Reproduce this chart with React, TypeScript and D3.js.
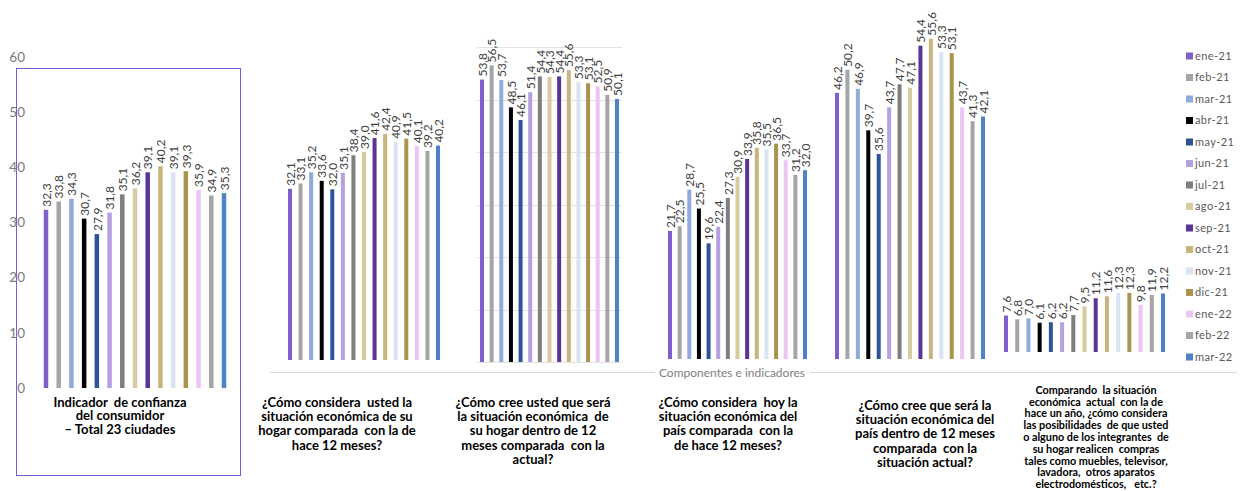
import React from "react";
import * as d3 from "d3";

const months = ["ene-21","feb-21","mar-21","abr-21","may-21","jun-21","jul-21","ago-21","sep-21","oct-21","nov-21","dic-21","ene-22","feb-22","mar-22"];
const monthColors = ["#7F5FC8","#A5A5A5","#8FAADC","#000000","#2F5496","#B4A0E2","#7F7F7F","#D8CBA0","#5A3596","#C8B57D","#DAE3F3","#A8934F","#EDC5F5","#A5A5A5","#4F81C8"];

const indicadorTotal = [32.3,33.8,34.3,30.7,27.9,31.8,35.1,36.2,39.1,40.2,39.1,39.3,35.9,34.9,35.3];
const hogarActual = [32.1,33.1,35.2,33.6,32.0,35.1,38.4,39.0,41.6,42.4,40.9,41.5,40.1,39.2,40.2];
const hogarFutura = [53.8,56.5,53.7,48.5,46.1,51.4,54.4,54.3,54.4,55.6,53.3,53.1,52.5,50.9,50.1];
const paisActual = [21.7,22.5,28.7,25.5,19.6,22.4,27.3,30.9,33.9,35.8,35.5,36.5,33.7,31.2,32.0];
const paisFutura = [46.2,50.2,46.9,39.7,35.6,43.7,47.7,47.1,54.4,55.6,53.3,53.1,43.7,41.3,42.1];
const comprasBienes = [7.6,6.8,7.0,6.1,6.2,6.2,7.7,9.5,11.2,11.6,12.3,12.3,9.8,11.9,12.2];

const yTicks = [0,10,20,30,40,50,60];
const axisTitle = "Componentes e indicadores";

const labelIndicador = ["Indicador  de confianza","del consumidor","– Total 23 ciudades"];
const labelHogarActual = ["¿Cómo considera  usted la","situación económica de su","hogar comparada  con la de","hace 12 meses?"];
const labelHogarFutura = ["¿Cómo cree usted que será","la situación económica  de","su hogar dentro de 12","meses comparada  con la","actual?"];
const labelPaisActual = ["¿Cómo considera  hoy la","situación económica del","país comparada  con la","de hace 12 meses?"];
const labelPaisFutura = ["¿Cómo cree que será la","situación económica del","país dentro de 12 meses","comparada  con la","situación actual?"];
const labelCompras = ["Comparando  la situación","económica  actual  con la de","hace un año, ¿cómo considera","las posibilidades  de que usted","o alguno de los integrantes  de","su hogar realicen  compras","tales como muebles, televisor,","lavadora,  otros aparatos","electrodomésticos,   etc.?"];

// layout (positions only)
const panels = [
  { values: indicadorTotal, label: labelIndicador, x0: 46, x1: 224, base: 388, top60: 57, lx: 120, ly: 402, lh: 13.8, fs: 13, bw: 4.5 },
  { values: hogarActual, label: labelHogarActual, x0: 290, x1: 438, base: 360, top60: 40, lx: 337, ly: 402, lh: 14.4, fs: 13, bw: 4 },
  { values: hogarFutura, label: labelHogarFutura, x0: 482, x1: 617, base: 362, top60: 47, lx: 533, ly: 402, lh: 14.4, fs: 13, bw: 4, grid: true },
  { values: paisActual, label: labelPaisActual, x0: 670, x1: 805, base: 359, top60: 5, lx: 728, ly: 402, lh: 14.4, fs: 13, bw: 4 },
  { values: paisFutura, label: labelPaisFutura, x0: 837, x1: 983, base: 359, top60: 13.4, lx: 925, ly: 405, lh: 14.4, fs: 13, bw: 4 },
  { values: comprasBienes, label: labelCompras, x0: 1006, x1: 1163, base: 352, top60: 64, lx: 1096, ly: 390, lh: 11.8, fs: 10.8, bw: 4 },
];

const fmt = (v: number) => d3.format(".1f")(v).replace(".", ",");
const FONT = "Lato, 'Open Sans', sans-serif";

export default function App() {
  const axisScale = d3.scaleLinear().domain([0, 60]).range([panels[0].base, panels[0].top60]);
  const legendY = d3.scalePoint<string>().domain(months).range([56, 357]);
  return (
    <svg width={1241} height={491} style={{ position: "absolute", left: 0, top: 0, background: "#fff" }} fontFamily={FONT}>
      <rect x={0} y={0} width={1241} height={491} fill="#fff" />
      {yTicks.map((t) => (
        <text key={t} x={25} y={axisScale(t)} dy="0.35em" textAnchor="end" fontSize={13.5} fill="#7a7a7a">{t}</text>
      ))}
      <rect x={16.5} y={68.5} width={224} height={407} fill="none" stroke="#7B5FD0" strokeWidth={1} />
      <line x1={270} x2={655} y1={372.5} y2={372.5} stroke="#d9d9d9" strokeWidth={1} />
      <line x1={810} x2={1237} y1={372.5} y2={372.5} stroke="#d9d9d9" strokeWidth={1} />
      <text x={732} y={373} dy="0.35em" textAnchor="middle" fontSize={12} fill="#808080">{axisTitle}</text>
      {panels.map((p, pi) => {
        const x = d3.scalePoint<string>().domain(months).range([p.x0, p.x1]);
        const y = d3.scaleLinear().domain([0, 60]).range([p.base, p.top60]);
        return (
          <g key={pi}>
            {p.grid && yTicks.map((t) => (
              <line key={t} x1={p.x0 - 5} x2={p.x1 + 5} y1={Math.round(y(t)) + 0.5} y2={Math.round(y(t)) + 0.5} stroke="#e3e3e3" strokeWidth={1} />
            ))}
            {p.values.map((v, i) => {
              const cx = x(months[i])!;
              return (
                <g key={i}>
                  <rect x={cx - p.bw / 2} y={y(v)} width={p.bw} height={p.base - y(v)} fill={monthColors[i]} />
                  <text transform={`translate(${cx + 0.5},${y(v) - 3}) rotate(-90)`} dy="0.35em" fontSize={12} fill="#404040">{fmt(v)}</text>
                </g>
              );
            })}
            {p.label.map((line, li) => (
              <text key={li} x={p.lx} y={p.ly + li * p.lh} dy="0.35em" textAnchor="middle" fontSize={p.fs} fontWeight="bold" fill="#000" style={{ whiteSpace: "pre" }}>{line}</text>
            ))}
          </g>
        );
      })}
      {months.map((m, i) => (
        <g key={m}>
          <rect x={1186} y={legendY(m)! - 3.5} width={7} height={7} fill={monthColors[i]} />
          <text x={1195} y={legendY(m)!} dy="0.35em" fontSize={11} fill="#595959" letterSpacing={0.4}>{m}</text>
        </g>
      ))}
    </svg>
  );
}
